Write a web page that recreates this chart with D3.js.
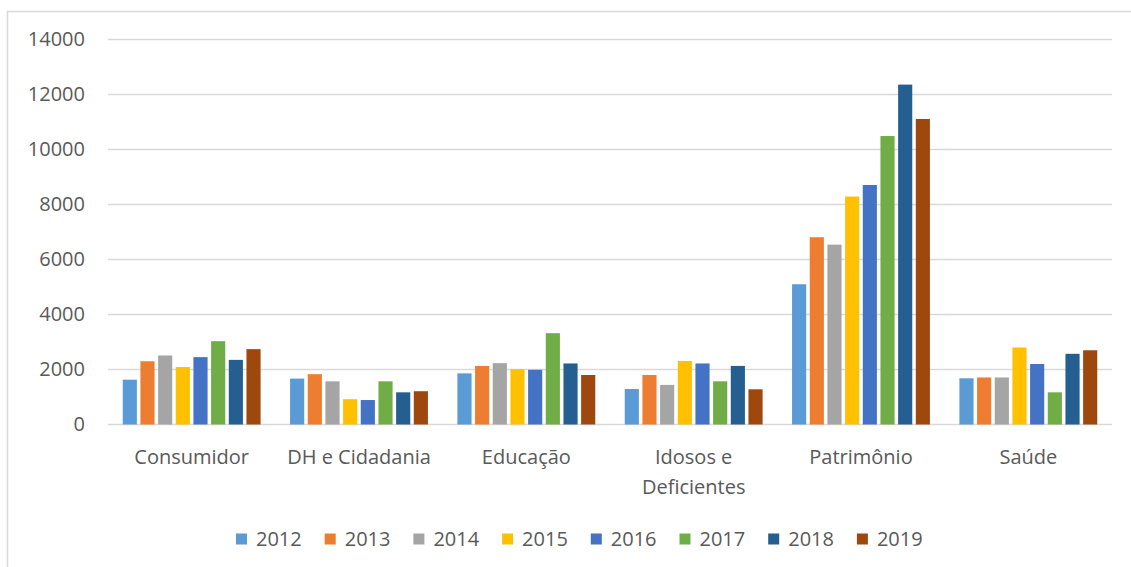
<!DOCTYPE html>
<html>
<head>
<meta charset="utf-8">
<script src="https://cdn.jsdelivr.net/npm/d3@7"></script>
<style>
    body { margin: 0; background: #fff; }
    svg { display: block; }
</style>
</head>
<body>
<div id="chart"></div>
<script>
// data
const categories = ["Consumidor", "DH e Cidadania", "Educação", "Idosos e Deficientes", "Patrimônio", "Saúde"]
const years = ["2012", "2013", "2014", "2015", "2016", "2017", "2018", "2019"]
const yearColors = ["#5B9BD5", "#ED7D31", "#A5A5A5", "#FFC000", "#4472C4", "#70AD47", "#255E91", "#9E480E"]

// one array per year, values in category order
const v2012 = [1630, 1670, 1860, 1290, 5100, 1680]
const v2013 = [2300, 1830, 2130, 1800, 6810, 1710]
const v2014 = [2510, 1570, 2230, 1440, 6540, 1710]
const v2015 = [2090, 920, 2010, 2310, 8290, 2800]
const v2016 = [2450, 890, 1990, 2220, 8710, 2200]
const v2017 = [3030, 1570, 3320, 1570, 10490, 1170]
const v2018 = [2350, 1170, 2220, 2130, 12360, 2570]
const v2019 = [2740, 1210, 1800, 1280, 11110, 2700]
const seriesValues = [v2012, v2013, v2014, v2015, v2016, v2017, v2018, v2019]

const yTicks = [0, 2000, 4000, 6000, 8000, 10000, 12000, 14000]

const width = 1131,
    height = 567
const margin = { top: 39.5, right: 19, bottom: 142.5, left: 108 }

const svg = d3.select("#chart")
    .append("svg")
    .attr("width", width)
    .attr("height", height)
    .style("font-family", "'Open Sans', sans-serif")

// chart area border
svg.append("rect")
    .attr("x", 7.5)
    .attr("y", 11.5)
    .attr("width", width + 20)
    .attr("height", height + 20)
    .attr("fill", "none")
    .attr("stroke", "#d9d9d9")
    .attr("stroke-width", 1.5)

const x0 = d3.scaleBand()
    .domain(categories)
    .range([margin.left, width - margin.right])
    .paddingInner(0.155)
    .paddingOuter(0.0775)

const x1 = d3.scaleBand()
    .domain(years)
    .range([0, x0.bandwidth()])
    .paddingInner(0.2)
    .paddingOuter(0.1)

const y = d3.scaleLinear()
    .domain([0, 14000])
    .range([height - margin.bottom, margin.top])

const color = d3.scaleOrdinal().domain(years).range(yearColors)

// gridlines
svg.append("g")
    .selectAll("line")
    .data(yTicks)
    .enter().append("line")
    .attr("x1", margin.left)
    .attr("x2", width - margin.right)
    .attr("y1", d => y(d))
    .attr("y2", d => y(d))
    .attr("stroke", "#d9d9d9")
    .attr("stroke-width", 1.5)

// y axis labels
const yAxis = svg.append("g")
    .attr("transform", `translate(${margin.left},0)`)
    .call(d3.axisLeft(y).tickValues(yTicks).tickSize(0).tickPadding(23).tickFormat(d3.format("d")))
yAxis.select(".domain").remove()
yAxis.selectAll("text")
    .attr("fill", "#595959")
    .attr("font-size", "20px")
    .attr("font-family", "'Open Sans', sans-serif")

// bars
const rows = categories.map((c, i) => ({
    category: c,
    values: years.map((yr, j) => ({ year: yr, value: seriesValues[j][i] }))
}))

svg.append("g")
    .selectAll("g")
    .data(rows)
    .enter().append("g")
    .attr("transform", d => `translate(${x0(d.category)},0)`)
    .selectAll("rect")
    .data(d => d.values)
    .enter().append("rect")
    .attr("x", d => x1(d.year))
    .attr("width", x1.bandwidth())
    .attr("y", d => y(d.value))
    .attr("height", d => y(0) - y(d.value))
    .attr("fill", d => color(d.year))

// category labels, wrapped to the band width
const xAxis = svg.append("g")
    .attr("transform", `translate(0,${y(0)})`)
    .call(d3.axisBottom(x0).tickSize(0).tickPadding(0))
xAxis.select(".domain").remove()
xAxis.selectAll("text")
    .attr("fill", "#595959")
    .attr("font-size", "20px")
    .attr("font-family", "'Open Sans', sans-serif")
    .attr("y", 39)
    .attr("dy", 0)
    .each(function () {
        const t = d3.select(this)
        const words = t.text().split(" ")
        const maxW = x0.step() - 10
        t.text(null)
        let line = []
        let lineNo = 0
        let tspan = t.append("tspan").attr("x", 0).attr("y", 39)
        words.forEach(w => {
            line.push(w)
            tspan.text(line.join(" "))
            if (tspan.node().getComputedTextLength() > maxW && line.length > 1) {
                line.pop()
                tspan.text(line.join(" "))
                line = [w]
                lineNo++
                tspan = t.append("tspan").attr("x", 0).attr("y", 39 + lineNo * 30).text(w)
            }
        })
    })

// legend
const legend = svg.append("g")
    .selectAll("g")
    .data(years)
    .enter().append("g")
    .attr("transform", (d, i) => `translate(${236 + i * 88.7},539)`)

legend.append("rect")
    .attr("x", 0)
    .attr("y", -5.5)
    .attr("width", 11)
    .attr("height", 11)
    .attr("fill", d => color(d))

legend.append("text")
    .attr("x", 20)
    .attr("y", 7)
    .attr("fill", "#595959")
    .attr("font-size", "20px")
    .text(d => d)
</script>
</body>
</html>
